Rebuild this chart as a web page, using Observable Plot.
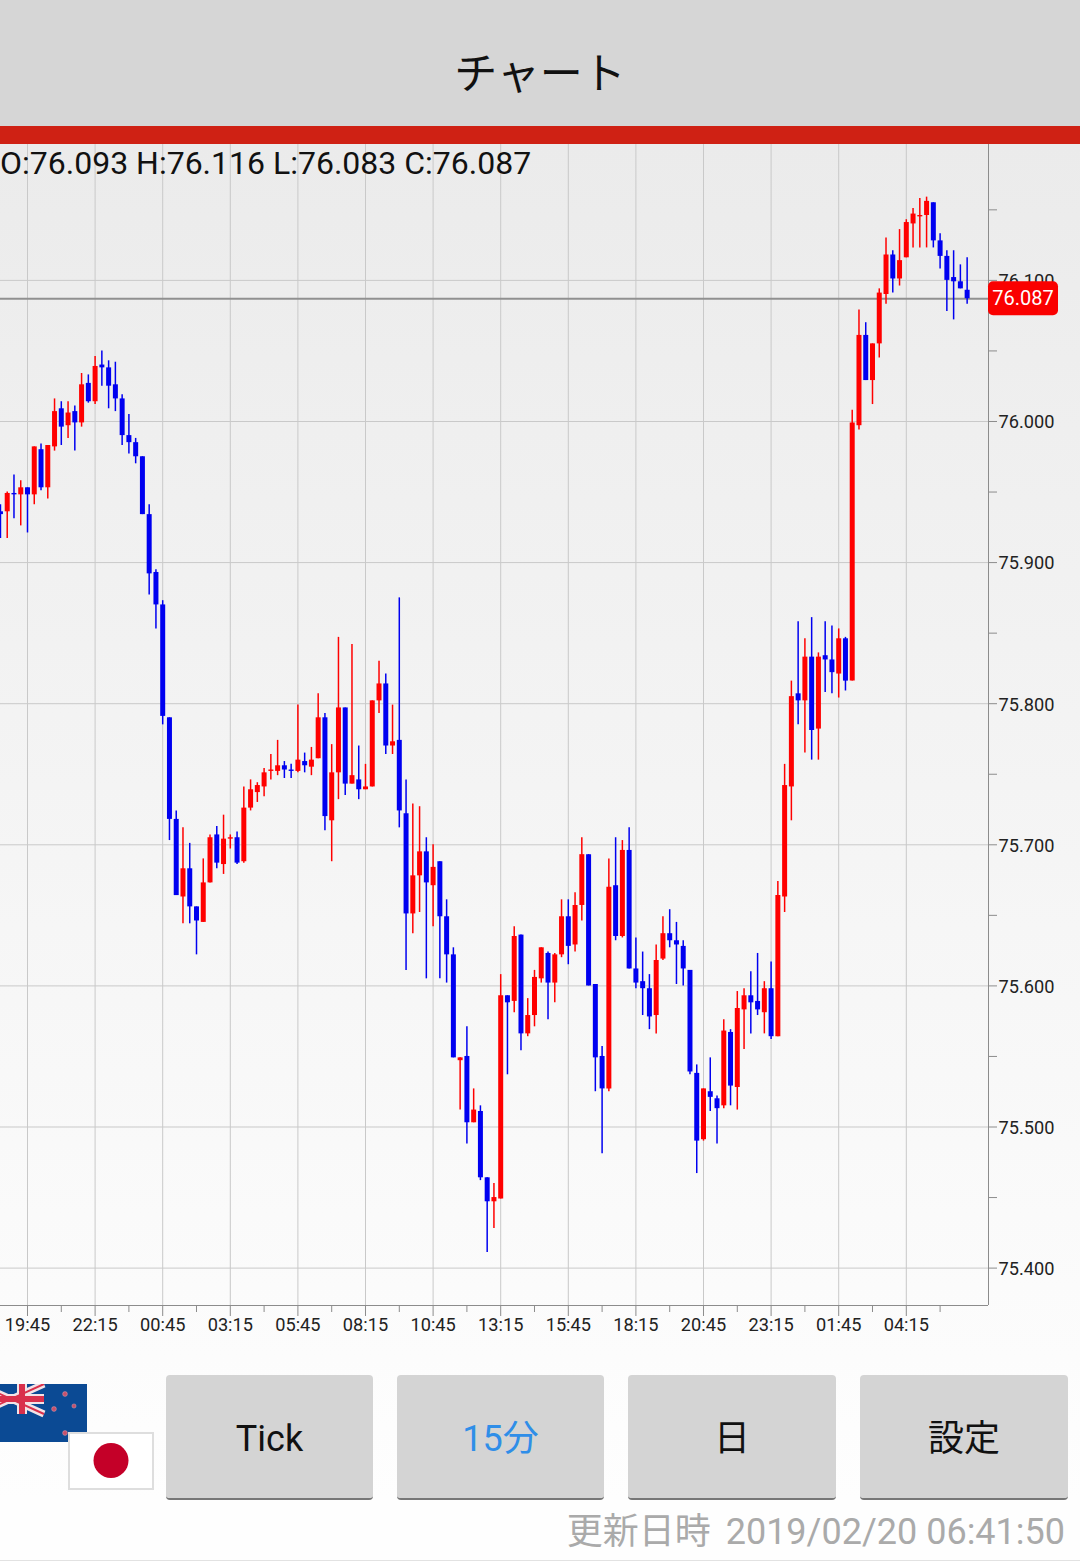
<!DOCTYPE html>
<html lang="ja">
<head>
<meta charset="utf-8">
<script src="https://cdn.jsdelivr.net/npm/d3@7"></script>
<script src="https://cdn.jsdelivr.net/npm/@observablehq/plot@0.6"></script>
<style>
html,body{margin:0;padding:0;width:1080px;height:1561px;overflow:hidden}
body{position:relative;font-family:Roboto,"Noto Sans CJK JP",sans-serif;background:linear-gradient(#ebebeb 144px,#fefefe 1500px)}
.abs{position:absolute}
#head{left:0;top:0;width:1080px;height:126px;background:#d6d6d6;text-align:center;font:43px/141px "Noto Sans CJK JP",sans-serif;color:#111}
#bar{left:0;top:126px;width:1080px;height:18px;background:#cf2114}
#chart{left:0;top:144px}
#ohlc{left:0;top:144px;font:32px/38px Roboto,sans-serif;color:#111;white-space:nowrap}
.btn{top:1375px;height:123px;background:#d4d4d4;border-radius:4px;border-bottom:2px solid #777;text-align:center;font:36px/128px Roboto,"Noto Sans CJK JP",sans-serif;color:#111;box-sizing:content-box}
#stamp{right:15px;top:1509px;font:36px/46px Roboto,"Noto Sans CJK JP",sans-serif;color:#aaa;white-space:nowrap}
#stamp span{margin-right:6px}
#edge{left:0;top:1560px;width:1080px;height:1px;background:#e2e2e2}
</style>
</head>
<body>
<div id="head" class="abs">チャート</div>
<div id="bar" class="abs"></div>
<div id="chart" class="abs"></div>
<div id="ohlc" class="abs"></div>
<svg class="abs" style="left:0;top:1384px" width="87" height="58" viewBox="0 0 87 58">
  <rect width="87" height="58" fill="#0b4a94"/>
  <g stroke="#f3e3e6"><path d="M-22 0L44 30M44 0L-22 30" stroke-width="7"/><path d="M22 0V30M-22 15H44" stroke-width="10"/></g>
  <g stroke="#d9304c"><path d="M-22 0L44 30M44 0L-22 30" stroke-width="2"/><path d="M22 0V30M-22 15H44" stroke-width="6"/></g>
  <g fill="#c5506c" stroke="#d9a0b0" stroke-width=".5"><circle cx="65" cy="10" r="2.4"/><circle cx="54" cy="25" r="2.4"/><circle cx="74" cy="22" r="2.1"/><circle cx="65" cy="49" r="2.4"/></g>
</svg>
<svg class="abs" style="left:68px;top:1432px" width="86" height="58" viewBox="0 0 86 58">
  <rect x="1" y="1" width="84" height="56" fill="#fff" stroke="#dedede" stroke-width="2"/>
  <circle cx="43" cy="28.5" r="17.5" fill="#c40028"/>
</svg>
<div class="abs btn" style="left:166px;width:207px">Tick</div>
<div class="abs btn" style="left:397px;width:207px;color:#2f8ee8">15分</div>
<div class="abs btn" style="left:628px;width:208px">日</div>
<div class="abs btn" style="left:860px;width:208px">設定</div>
<div id="stamp" class="abs"><span>更新日時</span> 2019/02/20 06:41:50</div>
<div id="edge" class="abs"></div>
<script>
const firstIndex = -4;
const opens = [
75.936,75.936,75.949,75.948,75.953,75.948,75.980,75.953,75.982,76.009,
75.997,76.007,75.999,76.027,76.014,76.040,76.038,76.026,76.016,75.990,
75.985,75.975,75.934,75.893,75.870,75.790,75.718,75.663,75.683,75.656,
75.645,75.673,75.707,75.686,75.704,75.705,75.688,75.726,75.737,75.741,
75.752,75.752,75.756,75.753,75.752,75.759,75.755,75.761,75.790,75.717,
75.751,75.797,75.743,75.746,75.739,75.741,75.802,75.814,75.770,75.774,
75.722,75.651,75.678,75.695,75.671,75.688,75.649,75.622,75.547,75.550,
75.503,75.511,75.464,75.447,75.449,75.593,75.589,75.636,75.566,75.579,
75.605,75.623,75.602,75.622,75.649,75.629,75.657,75.693,75.601,75.550,
75.527,75.671,75.635,75.696,75.612,75.603,75.598,75.579,75.619,75.637,
75.632,75.628,75.611,75.538,75.491,75.525,75.520,75.515,75.567,75.528,
75.583,75.593,75.589,75.581,75.598,75.564,75.663,75.741,75.807,75.802,
75.833,75.782,75.834,75.831,75.821,75.846,75.816,75.997,76.061,76.029,
76.055,76.090,76.118,76.101,76.116,76.140,76.145,76.146,76.155,76.128,
76.117,76.102,76.099,76.093];
const highs = [
75.941,75.950,75.962,75.958,75.953,75.982,75.984,75.983,76.016,76.014,
76.014,76.011,76.034,76.033,76.046,76.050,76.043,76.042,76.019,76.005,
75.988,75.975,75.941,75.895,75.873,75.790,75.724,75.712,75.701,75.656,
75.690,75.707,75.713,75.721,75.707,75.709,75.741,75.746,75.744,75.754,
75.764,75.774,75.759,75.757,75.799,75.765,75.769,75.807,75.793,75.771,
75.847,75.797,75.842,75.770,75.757,75.802,75.830,75.821,75.799,75.875,
75.746,75.729,75.727,75.705,75.700,75.688,75.661,75.627,75.549,75.571,
75.527,75.515,75.464,75.460,75.608,75.593,75.642,75.636,75.591,75.611,
75.627,75.624,75.623,75.661,75.661,75.666,75.705,75.693,75.601,75.557,
75.690,75.705,75.703,75.712,75.634,75.624,75.608,75.629,75.649,75.654,
75.645,75.632,75.611,75.544,75.527,75.549,75.522,75.576,75.569,75.596,
75.598,75.610,75.623,75.603,75.617,75.674,75.757,75.816,75.858,75.846,
75.861,75.836,75.858,75.855,75.853,75.847,76.008,76.079,76.070,76.055,
76.094,76.130,76.121,76.136,76.143,76.151,76.158,76.159,76.155,76.133,
76.121,76.121,76.111,76.116];
const lows = [
75.917,75.917,75.931,75.926,75.921,75.941,75.951,75.945,75.979,75.983,
75.988,75.979,75.996,76.013,76.012,76.025,76.009,76.007,75.983,75.977,
75.970,75.934,75.877,75.853,75.785,75.703,75.664,75.644,75.644,75.622,
75.645,75.673,75.683,75.679,75.697,75.686,75.687,75.724,75.730,75.734,
75.746,75.749,75.747,75.747,75.751,75.751,75.749,75.761,75.710,75.688,
75.732,75.735,75.743,75.732,75.739,75.741,75.793,75.764,75.764,75.712,
75.611,75.637,75.652,75.605,75.642,75.605,75.602,75.549,75.512,75.488,
75.503,75.462,75.411,75.428,75.449,75.537,75.581,75.554,75.564,75.571,
75.602,75.576,75.588,75.620,75.615,75.624,75.646,75.600,75.525,75.481,
75.525,75.632,75.634,75.612,75.598,75.579,75.569,75.566,75.618,75.627,
75.601,75.600,75.537,75.467,75.490,75.511,75.488,75.513,75.515,75.512,
75.555,75.566,75.579,75.566,75.562,75.564,75.652,75.717,75.785,75.765,
75.760,75.760,75.808,75.807,75.804,75.809,75.816,75.994,76.029,76.012,
76.045,76.083,76.091,76.096,76.116,76.123,76.123,76.123,76.123,76.108,
76.078,76.072,76.094,76.083];
const closes = [
75.934,75.949,75.948,75.953,75.948,75.982,75.953,75.983,76.007,75.996,
76.006,75.999,76.026,76.014,76.039,76.038,76.025,76.016,75.990,75.985,
75.975,75.934,75.892,75.870,75.791,75.718,75.664,75.683,75.656,75.646,
75.673,75.705,75.687,75.704,75.705,75.687,75.726,75.739,75.742,75.751,
75.753,75.756,75.753,75.752,75.760,75.756,75.760,75.790,75.720,75.751,
75.797,75.743,75.749,75.739,75.741,75.802,75.814,75.770,75.773,75.724,
75.651,75.678,75.695,75.673,75.684,75.649,75.622,75.549,75.549,75.503,
75.512,75.464,75.447,75.450,75.593,75.588,75.635,75.566,75.579,75.606,
75.627,75.602,75.622,75.649,75.628,75.657,75.693,75.600,75.549,75.527,
75.670,75.635,75.696,75.612,75.602,75.598,75.578,75.618,75.637,75.632,
75.629,75.612,75.539,75.490,75.527,75.521,75.513,75.568,75.529,75.584,
75.593,75.588,75.583,75.598,75.564,75.664,75.742,75.805,75.802,75.833,
75.781,75.833,75.831,75.822,75.846,75.816,75.999,76.061,76.029,76.055,
76.091,76.118,76.101,76.114,76.141,76.147,76.146,76.156,76.128,76.117,
76.100,76.099,76.094,76.087];

const tickIndex = [0,10,20,30,40,50,60,70,80,90,100,110,120,130];
const tickLabels = ["19:45","22:15","00:45","03:15","05:45","08:15","10:45","13:15","15:45","18:15","20:45","23:15","01:45","04:15"];
const minorIndex = [-5,5,15,25,35,45,55,65,75,85,95,105,115,125,135];
const priceTicks = [75.4,75.5,75.6,75.7,75.8,75.9,76.0,76.1];
const priceMinor = [75.45,75.55,75.65,75.75,75.85,75.95,76.05,76.15];

const candles = opens.map((o,k)=>({i:k+firstIndex,o,h:highs[k],l:lows[k],c:closes[k],
  col:closes[k]>=o?"#ff0000":"#0000f0"}));
const last = candles[candles.length-1];
const f3 = d3.format(".3f");
document.getElementById("ohlc").textContent =
  `O:${f3(last.o)} H:${f3(last.h)} L:${f3(last.l)} C:${f3(last.c)}`;

const gridCol = "#c9c9c9", axisCol = "#8c8c8c";
const xDomain = [-3.994,142.16], yDomain = [75.3735,76.1963];

const chart = Plot.plot({
  width:1080, height:1205,
  marginLeft:0, marginRight:92, marginTop:0, marginBottom:44,
  style:{background:"transparent",fontFamily:"Roboto,sans-serif",fontSize:"18.2px",color:"#222"},
  x:{domain:xDomain},
  y:{domain:yDomain},
  color:{type:"identity"},
  marks:[
    Plot.gridX(tickIndex,{stroke:gridCol,strokeOpacity:1}),
    Plot.gridY(priceTicks,{stroke:gridCol,strokeOpacity:1}),
    Plot.ruleY([last.c],{stroke:"#909090",strokeWidth:2}),
    Plot.axisX({ticks:minorIndex,tickFormat:()=>"",tickSize:7,stroke:axisCol,label:null}),
    Plot.axisX({ticks:tickIndex,tickFormat:i=>tickLabels[tickIndex.indexOf(i)],tickSize:11,tickPadding:2,stroke:axisCol,label:null}),
    Plot.axisY({anchor:"right",ticks:priceMinor,tickFormat:()=>"",tickSize:8,stroke:axisCol,label:null}),
    Plot.axisY({anchor:"right",ticks:priceTicks,tickFormat:()=>"",tickSize:8,stroke:axisCol,label:null}),
    Plot.text(priceTicks,{x:xDomain[1],y:d=>d,text:d=>f3(d),dx:10,dy:1,textAnchor:"start"}),
    Plot.ruleX([xDomain[1]],{stroke:axisCol,strokeWidth:1}),
    Plot.ruleY([yDomain[0]],{stroke:axisCol,strokeWidth:1}),
    Plot.ruleX(candles,{x:"i",y1:"l",y2:"h",stroke:"col",strokeWidth:1.5}),
    Plot.ruleX(candles,{x:"i",y1:"o",y2:"c",stroke:"col",strokeWidth:5}),
    (index,scales,values,dims)=>{
      const py = scales.y(last.c), px = scales.x(xDomain[1]);
      const g = d3.create("svg:g");
      g.append("rect").attr("x",px).attr("y",py-17).attr("width",70).attr("height",34).attr("rx",5).attr("fill","#fa0000");
      g.append("text").attr("x",px+35).attr("y",py).attr("dy","0.36em").attr("text-anchor","middle")
        .attr("fill","#fff").attr("font-size",20).text(f3(last.c));
      return g.node();
    }
  ]
});
document.getElementById("chart").appendChild(chart);
</script>
</body>
</html>
